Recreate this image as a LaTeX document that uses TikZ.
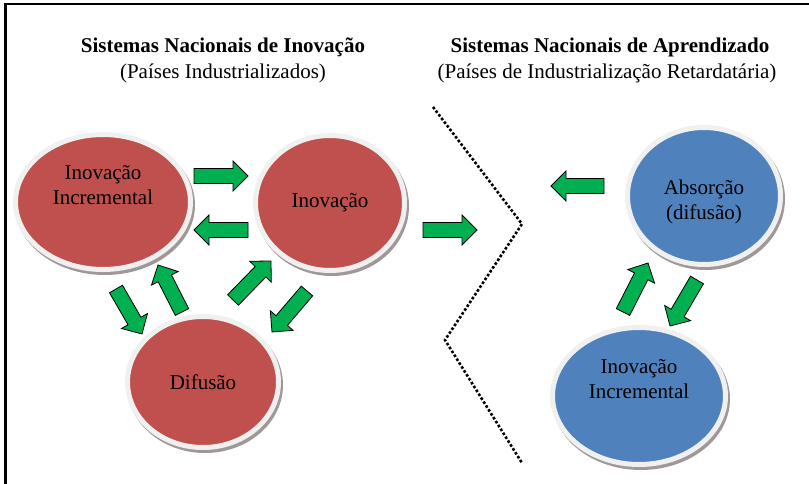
\documentclass[tikz,border=0pt]{standalone}
\usepackage{fontspec}
\setmainfont{Liberation Serif}
\usetikzlibrary{shapes.geometric,calc}
\definecolor{vermelho}{HTML}{C0504D}
\definecolor{azul}{HTML}{4F81BD}
\definecolor{verde}{HTML}{00B050}
\definecolor{anel}{HTML}{F0F0F0}
\definecolor{sombra}{HTML}{A09898}
% seta larga verde de #1 (cauda) para #2 (ponta)
\newcommand{\seta}[2]{%
	\draw [setaverde] ($(#1)!7.5pt!90:(#2)$) -- ($(#2)!15pt!(#1)!7.5pt!90:(#2)$)
		-- ($(#2)!15pt!(#1)!15pt!90:(#2)$) -- (#2)
		-- ($(#2)!15pt!(#1)!15pt!-90:(#2)$) -- ($(#2)!15pt!(#1)!7.5pt!-90:(#2)$)
		-- ($(#1)!7.5pt!-90:(#2)$) -- cycle;}
\begin{document}
\begin{tikzpicture}[x=1pt,y=-1pt]
		\tikzstyle{every node}+=[inner sep=0pt, font=\fontsize{21}{25}\selectfont]
		\tikzstyle{bola}=[ellipse, draw=anel, line width=5pt,
			preaction={draw=sombra, fill=sombra, line width=5pt, transform canvas={xshift=2pt, yshift=-3pt}}]
		\tikzstyle{rotulo}=[align=center]
		\tikzstyle{setaverde}=[fill=verde, draw=black, line width=0.8pt, line join=miter]
		\useasboundingbox (0,0) rectangle (809,484);
		\draw [black, line width=2.5pt] (5.5,484) -- (5.5,4) -- (809,4);
		% titulos
		\node (tit1) at (223,47) {\textbf{Sistemas Nacionais de Inovação}};
		\node (sub1) at (223,73) {(Países Industrializados)};
		\node (tit2) at (610,47) {\textbf{Sistemas Nacionais de Aprendizado}};
		\node (sub2) at (607,73) {(Países de Industrialização Retardatária)};
		% bolas
		\node [bola, fill=vermelho, minimum width=175, minimum height=135] (inc) at (103,202) {};
		\node [rotulo] (tinc) at ([yshift=17pt]inc.center) {Inovação\\Incremental};
		\node [bola, fill=vermelho, minimum width=149, minimum height=135] (inov) at (330,203) {Inovação};
		\node [bola, fill=vermelho, minimum width=151, minimum height=131] (dif) at (203,382) {Difusão};
		\node [bola, fill=azul, minimum width=153, minimum height=137] (abs) at (704,196) {};
		\node [rotulo] (tabs) at ([yshift=-6pt]abs.center) {Absorção\\(difusão)};
		\node [bola, fill=azul, minimum width=173, minimum height=137] (incb) at (639,396) {};
		\node [rotulo] (tincb) at ([yshift=17pt]incb.center) {Inovação\\Incremental};
		% fronteira
		\coordinate (f1) at (433,107);
		\coordinate (f2) at (522,224);
		\coordinate (f3) at (445,340);
		\coordinate (f4) at (522,463);
		\draw [black, line width=2.6pt, dash pattern=on 2.6pt off 2pt] (f1) -- (f2) -- (f3) -- (f4);
		% setas
		\coordinate (s1a) at (194,176); \coordinate (s1b) at (248,176);
		\coordinate (s2a) at (248,230); \coordinate (s2b) at (194,230);
		\coordinate (s3a) at (116,289); \coordinate (s3b) at (142,334);
		\coordinate (s4a) at (182,312); \coordinate (s4b) at (158,265);
		\coordinate (s5a) at (233,300); \coordinate (s5b) at (271,261);
		\coordinate (s6a) at (307,291); \coordinate (s6b) at (272,332);
		\coordinate (s7a) at (423,230); \coordinate (s7b) at (477,230);
		\coordinate (s8a) at (604,186); \coordinate (s8b) at (551,186);
		\coordinate (s9a) at (623,312); \coordinate (s9b) at (648,263);
		\coordinate (s10a) at (697,280); \coordinate (s10b) at (670,326);
		\seta{s1a}{s1b} \seta{s2a}{s2b} \seta{s3a}{s3b} \seta{s4a}{s4b}
		\seta{s5a}{s5b} \seta{s6a}{s6b} \seta{s7a}{s7b} \seta{s8a}{s8b}
		\seta{s9a}{s9b} \seta{s10a}{s10b}
	\end{tikzpicture}
\end{document}
